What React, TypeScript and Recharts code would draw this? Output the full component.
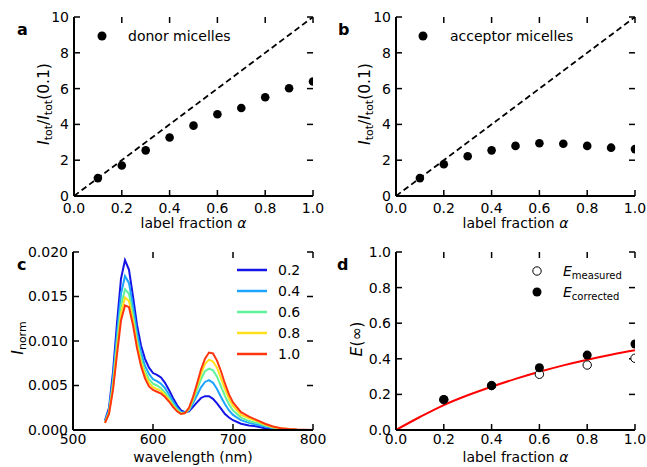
import React from 'react';
import { ComposedChart, Scatter, Line, XAxis, YAxis, ReferenceLine } from 'recharts';

const FONT = '"DejaVu Sans", Verdana, sans-serif';

// ---------- panels a & b ----------
const alphaTicks = [0, 0.2, 0.4, 0.6, 0.8, 1.0];
const ratioTicks = [0, 2, 4, 6, 8, 10];
const labelFractions = [0.1, 0.2, 0.3, 0.4, 0.5, 0.6, 0.7, 0.8, 0.9, 1.0];
const donorRatios = [1.0, 1.7, 2.55, 3.27, 3.93, 4.57, 4.92, 5.52, 6.02, 6.4];
const acceptorRatios = [1.0, 1.77, 2.22, 2.55, 2.8, 2.95, 2.92, 2.8, 2.7, 2.62];
const diagonalX = [0, 1];
const diagonalY = [0, 10];

// ---------- panel c ----------
const wavelengths = [540, 545, 550, 555, 560, 565, 570, 575, 580, 585, 590, 595, 600, 605, 610, 615, 620, 625, 630, 635, 640, 645, 650, 655, 660, 665, 670, 675, 680, 685, 690, 695, 700, 710, 720, 730, 740, 750, 760, 770, 780, 790, 800];
const spectrum02 = [0.0011, 0.0025, 0.0065, 0.0120, 0.0170, 0.0191, 0.0180, 0.0150, 0.0118, 0.0095, 0.0080, 0.0070, 0.0064, 0.0062, 0.0059, 0.0053, 0.0045, 0.0036, 0.0028, 0.0022, 0.0020, 0.0021, 0.0026, 0.0031, 0.0036, 0.0038, 0.0038, 0.0035, 0.0030, 0.0024, 0.0018, 0.0014, 0.0011, 0.0007, 0.0005, 0.0004, 0.0002, 0.0001, 0.00005, 0.00002, 0.00001, 0.0, 0.0];
const spectrum04 = [0.0010, 0.0022, 0.0058, 0.0108, 0.0153, 0.0173, 0.0165, 0.0139, 0.0109, 0.0087, 0.0072, 0.0063, 0.0057, 0.0055, 0.0052, 0.0047, 0.0040, 0.0032, 0.0025, 0.0020, 0.0020, 0.0022, 0.0030, 0.0039, 0.0048, 0.0054, 0.0056, 0.0053, 0.0046, 0.0037, 0.0029, 0.0022, 0.0017, 0.0011, 0.0008, 0.0006, 0.0004, 0.0002, 0.0001, 0.00005, 0.00002, 0.00001, 0.0];
const spectrum06 = [0.0009, 0.0020, 0.0052, 0.0098, 0.0140, 0.0158, 0.0153, 0.0129, 0.0101, 0.0080, 0.0066, 0.0057, 0.0052, 0.0050, 0.0047, 0.0042, 0.0036, 0.0029, 0.0023, 0.0019, 0.0019, 0.0023, 0.0033, 0.0045, 0.0057, 0.0066, 0.0069, 0.0067, 0.0060, 0.0049, 0.0038, 0.0029, 0.0022, 0.0014, 0.0010, 0.0008, 0.0005, 0.0003, 0.00015, 0.00007, 0.00003, 0.00001, 0.0];
const spectrum08 = [0.0008, 0.0019, 0.0048, 0.0091, 0.0131, 0.0149, 0.0145, 0.0123, 0.0096, 0.0076, 0.0062, 0.0053, 0.0048, 0.0046, 0.0044, 0.0039, 0.0034, 0.0027, 0.0022, 0.0018, 0.0019, 0.0024, 0.0035, 0.0049, 0.0063, 0.0074, 0.0079, 0.0077, 0.0070, 0.0058, 0.0046, 0.0035, 0.0027, 0.0017, 0.0013, 0.0010, 0.0006, 0.0003, 0.0002, 0.0001, 0.00004, 0.00001, 0.0];
const spectrum10 = [0.0008, 0.0018, 0.0045, 0.0085, 0.0123, 0.0140, 0.0138, 0.0118, 0.0092, 0.0072, 0.0058, 0.0049, 0.0045, 0.0043, 0.0041, 0.0037, 0.0032, 0.0026, 0.0021, 0.0018, 0.0019, 0.0025, 0.0037, 0.0052, 0.0068, 0.0080, 0.0087, 0.0086, 0.0078, 0.0066, 0.0052, 0.0040, 0.0031, 0.0020, 0.0015, 0.0011, 0.0007, 0.0004, 0.0002, 0.0001, 0.00005, 0.00002, 0.0];
const spectrumLabels = ['0.2', '0.4', '0.6', '0.8', '1.0'];
const spectrumColors = ['#1414e6', '#1ca4ff', '#5ff29a', '#ffe01a', '#ff3510'];
const spectra = [spectrum02, spectrum04, spectrum06, spectrum08, spectrum10];
const wavelengthTicks = [500, 600, 700, 800];
const intensityTicks = [0, 0.005, 0.01, 0.015, 0.02];

// ---------- panel d ----------
const fretFractions = [0.2, 0.4, 0.6, 0.8, 1.0];
const eMeasured = [0.17, 0.25, 0.313, 0.365, 0.403];
const eCorrected = [0.172, 0.249, 0.35, 0.421, 0.483];
const fitAlpha = [0, 0.1, 0.2, 0.3, 0.4, 0.5, 0.6, 0.7, 0.8, 0.9, 1.0];
const fitE = [0, 0.073, 0.14, 0.195, 0.243, 0.287, 0.327, 0.363, 0.395, 0.423, 0.448];
const efficiencyTicks = [0, 0.2, 0.4, 0.6, 0.8, 1.0];

// ---------- derived tables ----------
const donorData = labelFractions.map((x, i) => ({ x, y: donorRatios[i] }));
const acceptorData = labelFractions.map((x, i) => ({ x, y: acceptorRatios[i] }));
const diagonalData = diagonalX.map((x, i) => ({ x, y: diagonalY[i] }));
const spectraRows = wavelengths.map((x, i) => {
  const row: Record<string, number> = { x };
  spectra.forEach((s, k) => { row['s' + k] = s[i]; });
  return row;
});
const measuredData = fretFractions.map((x, i) => ({ x, y: eMeasured[i] }));
const correctedData = fretFractions.map((x, i) => ({ x, y: eCorrected[i] }));
const fitData = fitAlpha.map((x, i) => ({ x, y: fitE[i] }));

const axisLineStyle = { stroke: '#000', strokeWidth: 2 };
const TL = 6;
const LEFT_GAP = 5;

const bottomTick = (fmt: (v: number) => string) => (p: any) => (
  <text x={p.x} y={p.y} dy="0.71em" textAnchor="middle" fontSize={14} fontFamily={FONT} fill="#000">{fmt(p.payload.value)}</text>
);
const leftTick = (fmt: (v: number) => string) => (p: any) => (
  <text x={p.x} y={p.y} dy="0.355em" textAnchor="end" fontSize={14} fontFamily={FONT} fill="#000">{fmt(p.payload.value)}</text>
);

const vTickShape = (p: any) => {
  const lo = Math.min(p.y1, p.y2);
  const hi = Math.max(p.y1, p.y2);
  return (
    <g>
      <line x1={p.x1} x2={p.x1} y1={hi} y2={hi - TL} stroke="#000" strokeWidth={1.5} />
      <line x1={p.x1} x2={p.x1} y1={lo} y2={lo + TL} stroke="#000" strokeWidth={1.5} />
    </g>
  );
};
const hTickShape = (p: any) => {
  const lo = Math.min(p.x1, p.x2);
  const hi = Math.max(p.x1, p.x2);
  return (
    <g>
      <line x1={lo} x2={lo + TL} y1={p.y1} y2={p.y1} stroke="#000" strokeWidth={1.5} />
      <line x1={hi} x2={hi - TL} y1={p.y1} y2={p.y1} stroke="#000" strokeWidth={1.5} />
    </g>
  );
};

function frame(xDomain: number[], xTicks: number[], xFmt: (v: number) => string, yDomain: number[], yTicks: number[], yFmt: (v: number) => string, yWidth: number, bottomGap: number) {
  return [
    <XAxis key="xb" type="number" dataKey="x" domain={xDomain} ticks={xTicks} allowDataOverflow interval={0}
      height={30} tickSize={0} tickMargin={bottomGap} tick={bottomTick(xFmt)} axisLine={axisLineStyle} tickLine={false} />,
    <XAxis key="xt" xAxisId="top" orientation="top" type="number" domain={xDomain} ticks={xTicks} allowDataOverflow interval={0}
      height={0} tickSize={0} tick={false} axisLine={axisLineStyle} tickLine={false} />,
    <YAxis key="yl" type="number" dataKey="y" domain={yDomain} ticks={yTicks} allowDataOverflow interval={0}
      width={yWidth} tickSize={0} tickMargin={LEFT_GAP} tick={leftTick(yFmt)} axisLine={axisLineStyle} tickLine={false} />,
    <YAxis key="yr" yAxisId="right" orientation="right" type="number" domain={yDomain} ticks={yTicks} allowDataOverflow interval={0}
      width={0} tickSize={0} tick={false} axisLine={axisLineStyle} tickLine={false} />,
    ...xTicks.map((t) => <ReferenceLine key={'vx' + t} x={t} ifOverflow="visible" shape={vTickShape} />),
    ...yTicks.map((t) => <ReferenceLine key={'hy' + t} y={t} ifOverflow="visible" shape={hTickShape} />),
  ];
}

const f1 = (v: number) => v.toFixed(1);
const f0 = (v: number) => String(v);
const f3 = (v: number) => v.toFixed(3);

function RatioPanel({ data, yWidth, width }: { data: { x: number; y: number }[]; yWidth: number; width: number }) {
  return (
    <ComposedChart width={width} height={235} margin={{ top: 17, right: width - yWidth - 239, bottom: 9, left: 0 }}>
      {frame([0, 1], alphaTicks, f1, [0, 10], ratioTicks, f0, yWidth, 7)}
      <Line data={diagonalData} dataKey="y" type="linear" stroke="#000" strokeWidth={1.8} strokeDasharray="6 3.5" dot={false} isAnimationActive={false} />
      <Scatter data={data} fill="#000" shape={(p: any) => <circle cx={p.cx} cy={p.cy} r={4.3} fill="#000" />} isAnimationActive={false} />
    </ComposedChart>
  );
}

function Sub({ children }: { children: string }) {
  return <tspan fontSize={11} dy={3.5}>{children}</tspan>;
}

export default function App() {
  return (
    <div style={{ position: 'absolute', left: 0, top: 0, width: 647, height: 467, background: '#fff', fontFamily: FONT }}>
      <div style={{ position: 'absolute', left: 0, top: 0 }}>
        <RatioPanel data={donorData} yWidth={74} width={330} />
      </div>
      <div style={{ position: 'absolute', left: 320, top: 0 }}>
        <RatioPanel data={acceptorData} yWidth={76} width={327} />
      </div>
      <div style={{ position: 'absolute', left: 0, top: 235 }}>
        <ComposedChart width={330} height={232} data={spectraRows} margin={{ top: 17, right: 17, bottom: 7, left: 0 }}>
          {frame([500, 800], wavelengthTicks, f0, [0, 0.02], intensityTicks, f3, 73, 4)}
          {spectra.map((_, k) => (
            <Line key={k} dataKey={'s' + k} type="linear" stroke={spectrumColors[k]} strokeWidth={2} dot={false} isAnimationActive={false} />
          ))}
        </ComposedChart>
      </div>
      <div style={{ position: 'absolute', left: 320, top: 235 }}>
        <ComposedChart width={327} height={232} margin={{ top: 17, right: 12, bottom: 7, left: 0 }}>
          {frame([0, 1], efficiencyTicks, f1, [0, 1], efficiencyTicks, f1, 76, 4)}
          <Line data={fitData} dataKey="y" type="monotone" stroke="#ff0000" strokeWidth={2} dot={false} isAnimationActive={false} />
          <Scatter data={measuredData} shape={(p: any) => <circle cx={p.cx} cy={p.cy} r={4.2} fill="#fff" stroke="#000" strokeWidth={1} />} isAnimationActive={false} />
          <Scatter data={correctedData} shape={(p: any) => <circle cx={p.cx} cy={p.cy} r={4.5} fill="#000" />} isAnimationActive={false} />
        </ComposedChart>
      </div>

      <svg width={647} height={467} style={{ position: 'absolute', left: 0, top: 0, pointerEvents: 'none' }} fontFamily={FONT}>
        <g fontSize={16} fontWeight="bold" fill="#000">
          <text x={17} y={35}>a</text>
          <text x={338} y={35}>b</text>
          <text x={17} y={270}>c</text>
          <text x={337} y={270}>d</text>
        </g>
        <g fontSize={14} fill="#000" textAnchor="middle">
          <text x={193.5} y={228}>label fraction <tspan fontStyle="italic">α</tspan></text>
          <text x={515.5} y={228}>label fraction <tspan fontStyle="italic">α</tspan></text>
          <text x={193} y={462}>wavelength (nm)</text>
          <text x={515.5} y={462}>label fraction <tspan fontStyle="italic">α</tspan></text>
        </g>
        <g fontSize={15.5} fill="#000" textAnchor="middle">
          <text transform="translate(48.5,104) rotate(-90)">
            <tspan fontStyle="italic">I</tspan><Sub>tot</Sub><tspan dy={-3.5}>/</tspan><tspan fontStyle="italic">I</tspan><Sub>tot</Sub><tspan dy={-3.5}>(0.1)</tspan>
          </text>
          <text transform="translate(369.5,104) rotate(-90)">
            <tspan fontStyle="italic">I</tspan><Sub>tot</Sub><tspan dy={-3.5}>/</tspan><tspan fontStyle="italic">I</tspan><Sub>tot</Sub><tspan dy={-3.5}>(0.1)</tspan>
          </text>
          <text transform="translate(22.5,338) rotate(-90)">
            <tspan fontStyle="italic">I</tspan><Sub>norm</Sub>
          </text>
          <text transform="translate(362,339) rotate(-90)">
            <tspan fontStyle="italic">E</tspan><tspan>(∞)</tspan>
          </text>
        </g>
        <circle cx={102} cy={36} r={4.5} fill="#000" />
        <text x={128} y={41} fontSize={14} fill="#000">donor micelles</text>
        <circle cx={423} cy={36} r={4.5} fill="#000" />
        <text x={450} y={41} fontSize={14} fill="#000">acceptor micelles</text>
        {spectrumLabels.map((lab, k) => (
          <g key={lab}>
            <line x1={237} x2={267} y1={270 + k * 21} y2={270 + k * 21} stroke={spectrumColors[k]} strokeWidth={2.5} />
            <text x={278} y={275 + k * 21} fontSize={14} fill="#000">{lab}</text>
          </g>
        ))}
        <circle cx={537} cy={271} r={4.2} fill="#fff" stroke="#000" strokeWidth={1} />
        <circle cx={537} cy={292} r={4.5} fill="#000" />
        <text x={563} y={276} fontSize={14} fill="#000"><tspan fontStyle="italic">E</tspan><tspan fontSize={10} dy={3}>measured</tspan></text>
        <text x={563} y={297} fontSize={14} fill="#000"><tspan fontStyle="italic">E</tspan><tspan fontSize={10} dy={3}>corrected</tspan></text>
      </svg>
    </div>
  );
}
